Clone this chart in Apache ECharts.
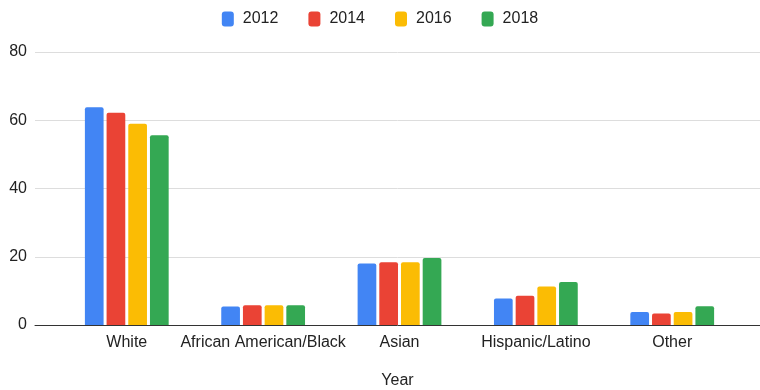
<!DOCTYPE html>
<html>
<head>
<meta charset="utf-8">
<script src="https://cdn.jsdelivr.net/npm/echarts@6/dist/echarts.min.js"></script>
<style>html,body{margin:0;padding:0;background:#fff}#c{width:760px;height:390px}</style>
</head>
<body>
<div id="c"></div>
<script>
var categories = ['White', 'African American/Black', 'Asian', 'Hispanic/Latino', 'Other'];
var seriesNames = ['2012', '2014', '2016', '2018'];
var v2012 = [63.8, 5.4, 18.0, 7.8, 3.8];
var v2014 = [62.2, 5.8, 18.4, 8.6, 3.4];
var v2016 = [59.0, 5.8, 18.4, 11.3, 3.8];
var v2018 = [55.6, 5.8, 19.6, 12.6, 5.5];
var yTicks = [0, 20, 40, 60, 80];
var xTitle = 'Year';
var colors = ['#4285F4', '#EA4335', '#FBBC04', '#34A853'];

var values = [v2012, v2014, v2016, v2018];
var font = '"Liberation Sans", Arial, sans-serif';
var chart = echarts.init(document.getElementById('c'), null, {renderer: 'canvas'});
var series = seriesNames.map(function (n, i) {
  return {
    name: n, type: 'bar', xAxisIndex: 1, yAxisIndex: 1,
    data: values[i], barWidth: 18.7, barGap: '16%',
    itemStyle: {color: colors[i], borderRadius: [2, 2, 0, 0]}
  };
});
chart.setOption({
  animation: false,
  color: colors,
  legend: {
    top: 6, left: 'center', itemWidth: 12, itemHeight: 15, itemGap: 30,
    icon: 'roundRect',
    textStyle: {fontFamily: font, fontSize: 16, color: '#222', padding: [0, 0, 0, 4]},
    data: seriesNames
  },
  grid: [
    {left: 35, right: 0, top: 52, bottom: 65, outerBoundsMode: 'none', containLabel: false},
    {left: 58.6, right: 19.6, top: 52, bottom: 65, outerBoundsMode: 'none', containLabel: false}
  ],
  xAxis: [
    {type: 'value', gridIndex: 0, min: 0, max: 1, axisLabel: {show: false},
     splitLine: {show: false}, axisTick: {show: false},
     axisLine: {show: true, onZero: false, lineStyle: {color: '#333', width: 1}},
     name: xTitle, nameLocation: 'middle', nameGap: 48,
     nameTextStyle: {fontFamily: font, fontSize: 16, color: '#222'}},
    {type: 'category', gridIndex: 1, data: categories,
     axisLine: {show: false}, axisTick: {show: false},
     axisLabel: {fontFamily: font, fontSize: 16, color: '#222', margin: 10, interval: 0}}
  ],
  yAxis: [
    {type: 'value', gridIndex: 0, min: 0, max: 80, interval: 20,
     axisLine: {show: false}, axisTick: {show: false},
     axisLabel: {fontFamily: font, fontSize: 16, color: '#222', margin: 8,
       formatter: function (v) { return yTicks.indexOf(v) >= 0 ? String(v) : ''; }},
     splitLine: {lineStyle: {color: '#dddddd', width: 1}}},
    {type: 'value', gridIndex: 1, min: 0, max: 80, interval: 20, show: false,
     splitLine: {show: false}}
  ],
  series: series
});
</script>
</body>
</html>
